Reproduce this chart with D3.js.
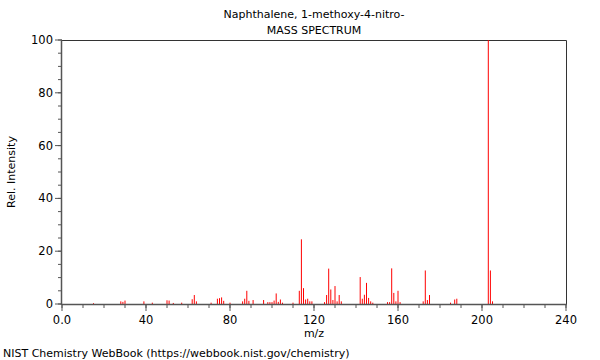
<!DOCTYPE html>
<html>
<head>
<meta charset="utf-8">
<script src="https://cdn.jsdelivr.net/npm/d3@7"></script>
<style>
  body { margin: 0; background: #fff; }
  svg { display: block; font-family: "DejaVu Sans", sans-serif; }
</style>
</head>
<body>
<div id="chart"></div>
<script>
const titleLines = ["Naphthalene, 1-methoxy-4-nitro-", "MASS SPECTRUM"];
const xLabel = "m/z";
const yLabel = "Rel. Intensity";
const footer = "NIST Chemistry WebBook (https://webbook.nist.gov/chemistry)";

const mz = [15, 28, 29, 30, 39, 43, 50, 51, 53, 57, 62, 63, 64, 71, 74, 75, 76, 77, 80,
  86, 87, 88, 89, 91, 96, 98, 99, 100, 101, 102, 103, 104, 105, 110,
  113, 114, 115, 116, 117, 118, 119, 125, 126, 127, 128, 129, 130, 131, 132, 133,
  142, 143, 144, 145, 146, 147, 148, 155, 156, 157, 158, 159, 160, 161,
  172, 173, 174, 175, 185, 187, 188, 203, 204, 205];
const intensity = [0.3, 1.0, 0.8, 1.3, 1.0, 0.5, 1.4, 1.3, 0.4, 0.5, 1.8, 3.4, 1.0, 0.5, 2.0, 2.2, 2.5, 1.2, 0.5,
  1.0, 2.0, 5.0, 1.2, 1.5, 1.5, 0.7, 0.7, 0.7, 1.3, 4.0, 0.8, 1.7, 0.5, 0.5,
  5.0, 24.5, 6.0, 1.7, 2.0, 1.0, 1.0, 0.7, 3.4, 13.4, 5.5, 1.5, 6.8, 1.0, 3.4, 1.0,
  10.2, 2.0, 3.5, 8.0, 2.3, 1.0, 0.5, 0.7, 0.7, 13.5, 4.2, 1.0, 5.0, 0.7,
  1.0, 12.7, 1.5, 3.4, 0.5, 1.7, 2.0, 100, 12.7, 1.0];

const xTicks = [0, 40, 80, 120, 160, 200, 240];
const xTickLabels = ["0.0", "40", "80", "120", "160", "200", "240"];
const yTicks = [0, 20, 40, 60, 80, 100];

const W = 600, H = 360;
const m = { left: 62, right: 34, top: 40, bottom: 56 };
const svg = d3.select("#chart").append("svg").attr("width", W).attr("height", H);

const x = d3.scaleLinear().domain([0, 240]).range([m.left, W - m.right]);
const y = d3.scaleLinear().domain([0, 100]).range([H - m.bottom, m.top]);

// frame top/right
svg.append("path")
  .attr("d", `M${x(0)},${y(100)+0.5}H${x(240)+0.5}V${y(0)}`)
  .attr("fill", "none").attr("stroke", "#333").attr("stroke-width", 1);

// bars
svg.append("g").selectAll("line").data(mz.map((d, i) => [d, intensity[i]]))
  .join("line")
  .attr("x1", d => x(d[0])).attr("x2", d => x(d[0]))
  .attr("y1", y(0)).attr("y2", d => y(d[1]))
  .attr("stroke", "#ff0000").attr("stroke-width", 1);

// x axis
const xMinor = d3.range(0, 241, 10);
const gx = svg.append("g").attr("transform", `translate(0,${y(0)})`);
gx.append("line").attr("x1", x(0)).attr("x2", x(240) + 1).attr("y1", 0.5).attr("y2", 0.5)
  .attr("stroke", "#555").attr("stroke-width", 1.5);
gx.selectAll("line.minor").data(xMinor).join("line").attr("class", "minor")
  .attr("x1", d => x(d)).attr("x2", d => x(d)).attr("y1", 0).attr("y2", 4)
  .attr("stroke", "#555");
gx.selectAll("line.major").data(xTicks).join("line").attr("class", "major")
  .attr("x1", d => x(d)).attr("x2", d => x(d)).attr("y1", 0).attr("y2", 7)
  .attr("stroke", "#555");
gx.selectAll("text").data(xTicks).join("text")
  .attr("x", d => x(d)).attr("y", 20).attr("text-anchor", "middle")
  .attr("font-size", 11.5).attr("fill", "#000")
  .text((d, i) => xTickLabels[i]);

// y axis
const yMinor = d3.range(0, 101, 5);
const gy = svg.append("g").attr("transform", `translate(${x(0)},0)`);
gy.append("line").attr("x1", -0.5).attr("x2", -0.5).attr("y1", y(100)).attr("y2", y(0) + 1)
  .attr("stroke", "#555").attr("stroke-width", 1.5);
gy.selectAll("line.minor").data(yMinor).join("line").attr("class", "minor")
  .attr("x1", -4).attr("x2", 0).attr("y1", d => y(d)).attr("y2", d => y(d))
  .attr("stroke", "#555");
gy.selectAll("line.major").data(yTicks).join("line").attr("class", "major")
  .attr("x1", -7).attr("x2", 0).attr("y1", d => y(d)).attr("y2", d => y(d))
  .attr("stroke", "#555");
gy.selectAll("text").data(yTicks).join("text")
  .attr("x", -9).attr("y", d => y(d) + 4).attr("text-anchor", "end")
  .attr("font-size", 11.5).attr("fill", "#000")
  .text(d => d);

// titles
const cx = (x(0) + x(240)) / 2;
svg.append("text").attr("x", cx).attr("y", 18).attr("text-anchor", "middle")
  .attr("font-size", 11).text(titleLines[0]);
svg.append("text").attr("x", cx).attr("y", 34).attr("text-anchor", "middle")
  .attr("font-size", 11).text(titleLines[1]);
svg.append("text").attr("x", cx).attr("y", 337).attr("text-anchor", "middle")
  .attr("font-size", 11).text(xLabel);
svg.append("text").attr("transform", `translate(15,${(y(0) + y(100)) / 2}) rotate(-90)`)
  .attr("text-anchor", "middle").attr("font-size", 11).text(yLabel);
svg.append("text").attr("x", 3).attr("y", 357).attr("font-size", 11).text(footer);
</script>
</body>
</html>
